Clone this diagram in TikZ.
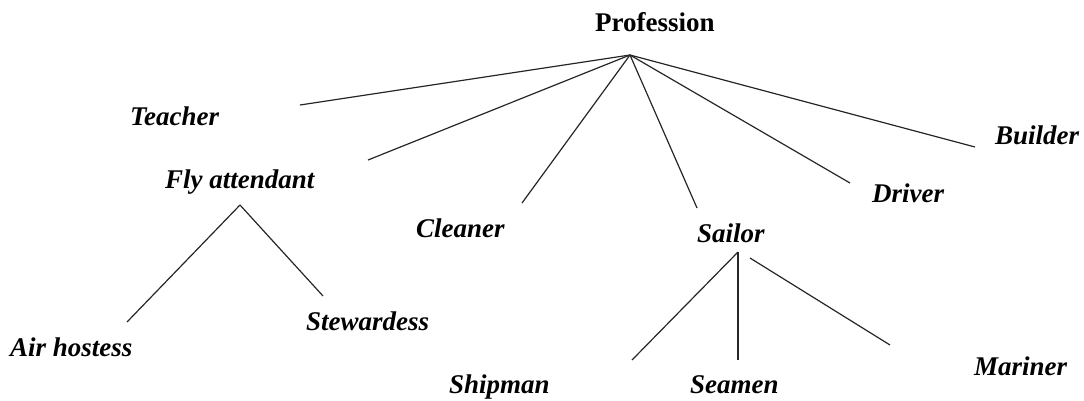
\documentclass[tikz,border=0pt]{standalone}
\usepackage{fontspec}
\setmainfont{Liberation Serif}
\begin{document}
\begin{tikzpicture}[x=1pt,y=-1pt,
  lbl/.style={anchor=base west,inner sep=0pt,font=\fontsize{27}{32}\selectfont\bfseries\itshape},
  top/.style={anchor=base west,inner sep=0pt,font=\fontsize{27}{32}\selectfont\bfseries},
  edge/.style={draw=black!85,line width=1.2pt}]
\useasboundingbox (0,0) rectangle (1084,400);
\node[top] (prof) at (595,31) {Profession};
\node[lbl] (teacher) at (130,125) {Teacher};
\node[lbl] (fly) at (165,188) {Fly attendant};
\node[lbl] (cleaner) at (416,237) {Cleaner};
\node[lbl] (sailor) at (697,242) {Sailor};
\node[lbl] (driver) at (872,202) {Driver};
\node[lbl] (builder) at (995,144) {Builder};
\node[lbl] (air) at (10,356) {Air hostess};
\node[lbl] (stew) at (306,330) {Stewardess};
\node[lbl] (ship) at (449,393) {Shipman};
\node[lbl] (sea) at (690,393) {Seamen};
\node[lbl] (mar) at (974,375) {Mariner};
\coordinate (apex) at (630,55);
\coordinate (tT) at (300,105);
\coordinate (tF) at (368,160);
\coordinate (tC) at (522,203);
\coordinate (tS) at (697,208);
\coordinate (tD) at (850,183);
\coordinate (tB) at (975,147);
\coordinate (fa) at (240,205);
\coordinate (fA) at (127,322);
\coordinate (fS) at (323,296);
\coordinate (sa) at (738,252);
\coordinate (sb) at (750,258);
\coordinate (sSh) at (632,360);
\coordinate (sSe) at (738,360);
\coordinate (sM) at (890,345);
\foreach \t in {tT,tF,tC,tS,tD,tB} \draw[edge] (apex) -- (\t);
\draw[edge] (fa) -- (fA);
\draw[edge] (fa) -- (fS);
\draw[edge] (sa) -- (sSh);
\draw[edge] (sa) -- (sSe);
\draw[edge] (sb) -- (sM);
\end{tikzpicture}
\end{document}
